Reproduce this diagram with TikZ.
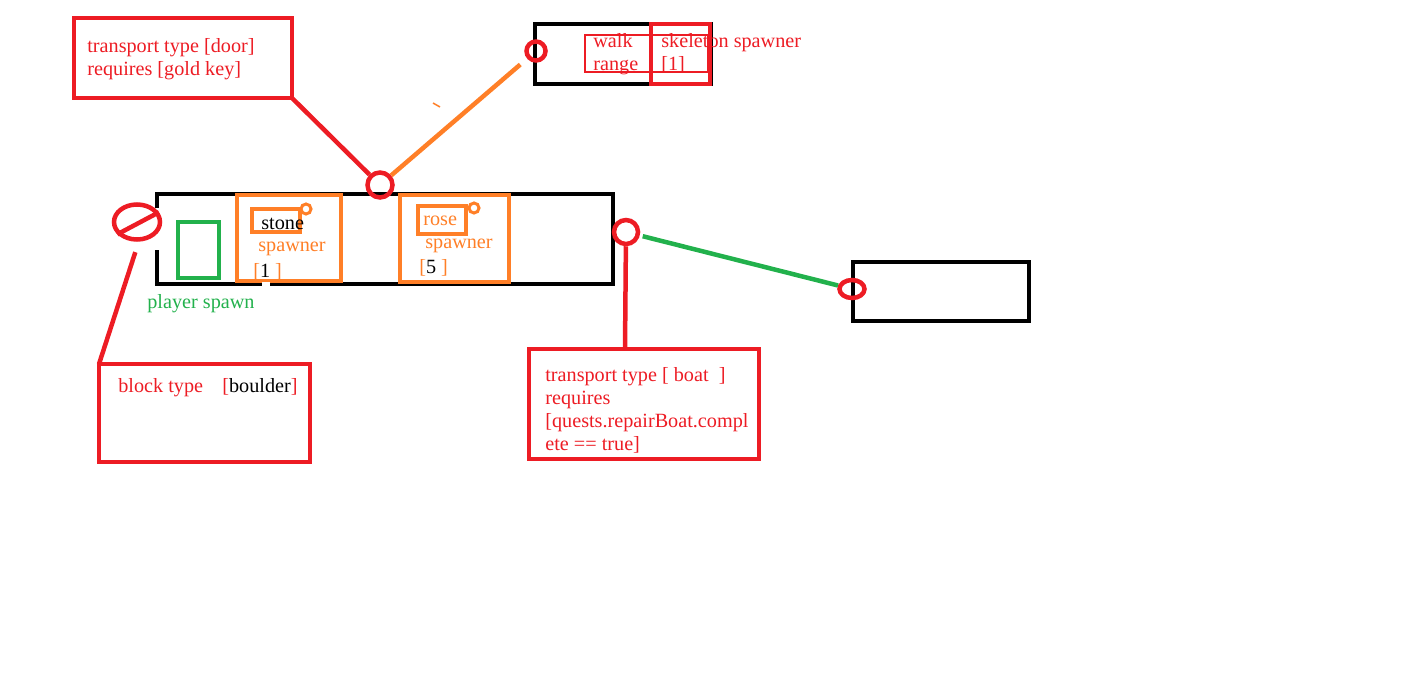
\documentclass[tikz,border=0pt]{standalone}
\usepackage{fontspec}
\setmainfont{Liberation Serif}
\usepackage{xcolor}
\definecolor{paintred}{RGB}{237,28,36}
\definecolor{paintorange}{RGB}{255,127,39}
\definecolor{paintgreen}{RGB}{34,177,76}
\usepackage{tikz}
\usetikzlibrary{shapes.geometric}
\newcommand{\pxu}{0.02cm}
\tikzset{
  brush/.style={line width=4.5*\pxu},
  pen/.style={line width=3*\pxu},
  ring/.style={ellipse, draw=paintred, brush, inner sep=0pt},
  lbl/.style={font=\fontsize{11.5}{13}\selectfont, inner sep=0pt, anchor=base west},
}

\begin{document}
\begin{tikzpicture}[x=\pxu, y=-\pxu]
  \useasboundingbox (0,0) rectangle (1402,683);

  % --- Door label (top left) ---
  \draw[brush, paintred] (74,18) rectangle (292,98);
  \coordinate (doorcorner) at (292,98);
  \node[lbl, text=paintred] (doortxta) at (87,52) {transport type [door]};
  \node[lbl, text=paintred] (doortxtb) at (87,75) {requires [gold key]};

  % --- Walk range room (top) ---
  \draw[brush] (535,24) rectangle (711,84);
  \draw[paintred, line width=1.2*\pxu] (585,35) rectangle (708,72);
  \node[lbl, text=paintred] (walktxt) at (593,47) {walk};
  \node[lbl, text=paintred] (rangetxt) at (593,70) {range};
  \draw[brush, paintred] (651,24) rectangle (710,84);
  \node[lbl, text=paintred] (skeltxt) at (661,47) {skeleton spawner};
  \node[lbl, text=paintred] (skelnum) at (661,70) {[1]};
  \node[ring, minimum size=19*\pxu] (walkring) at (536,51) {};

  % --- Main room ---
  \draw[brush] (157,208) -- (157,194) -- (613,194) -- (613,284) -- (157,284) -- (157,250);
  \draw[brush, paintgreen] (178,222) rectangle (219,278);
  \node[lbl, text=paintgreen] (playertxt) at (147,308) {player spawn};
  % stone spawner
  \draw[brush, paintorange, fill=white] (237,195) rectangle (341,281);
  \draw[brush, paintorange] (252,209) rectangle (300,232);
  \draw[pen, paintorange] (306,209) circle (5);
  \node[lbl] (stonetxt) at (261,229) {stone};
  \node[lbl, text=paintorange] (stonespawn) at (258,251) {spawner};
  \node[lbl, text=paintorange] (stonenum) at (253,277) {[\textcolor{black}{1} ]};
  \fill[white] (262,282) rectangle (270,287);
  % rose spawner
  \draw[brush, paintorange] (400,195) rectangle (509,282);
  \draw[brush, paintorange] (418,206) rectangle (466,234);
  \draw[pen, paintorange] (474,208) circle (5);
  \node[lbl, text=paintorange] (rosetxt) at (423,225) {rose};
  \node[lbl, text=paintorange] (rosespawn) at (425,248) {spawner};
  \node[lbl, text=paintorange] (rosenum) at (419,273) {[\textcolor{black}{5} ]};

  % rings on the main room
  \node[ring, minimum size=25*\pxu] (topring) at (380,185) {};
  \node[ring, minimum size=24*\pxu] (rightring) at (626,232) {};
  \node[ring, minimum width=46*\pxu, minimum height=35*\pxu] (noentry) at (137,222) {};
  \draw[brush, paintred] (noentry.212) -- (noentry.24);

  % --- Block label ---
  \draw[brush, paintred] (99,364) rectangle (310,462);
  \coordinate (blockcorner) at (99,364);
  \node[lbl, text=paintred] (blocktxt) at (118,392) {block type};
  \node[lbl, text=paintred] (bouldertxt) at (222,392) {[\textcolor{black}{boulder}]};

  % --- Boat label ---
  \draw[brush, paintred] (529,349) rectangle (759,459);
  \coordinate (boattop) at (625,349);
  \node[lbl, text=paintred] (boattxta) at (545,381) {transport type [ boat\ \ ]};
  \node[lbl, text=paintred] (boattxtb) at (545,404) {requires};
  \node[lbl, text=paintred] (boattxtc) at (545,427) {[quests.repairBoat.compl};
  \node[lbl, text=paintred] (boattxtd) at (545,450) {ete == true]};

  % --- Far room (right) ---
  \draw[brush] (853,262) rectangle (1029,321);
  \node[ring, minimum width=25*\pxu, minimum height=18*\pxu] (farring) at (852,289) {};

  % connectors
  \draw[brush, paintred] (doorcorner) -- (topring);
  \draw[brush, paintorange, shorten >=9*\pxu] (topring) -- (walkring);
  \draw[paintorange, line width=1.5*\pxu] (433,103) -- (440,107);
  \draw[brush, paintred, shorten <=11*\pxu] (noentry.275) -- (blockcorner);
  \draw[brush, paintred] (rightring) -- (boattop);
  \draw[brush, paintgreen, shorten <=3*\pxu] (rightring) -- (farring);
\end{tikzpicture}
\end{document}
